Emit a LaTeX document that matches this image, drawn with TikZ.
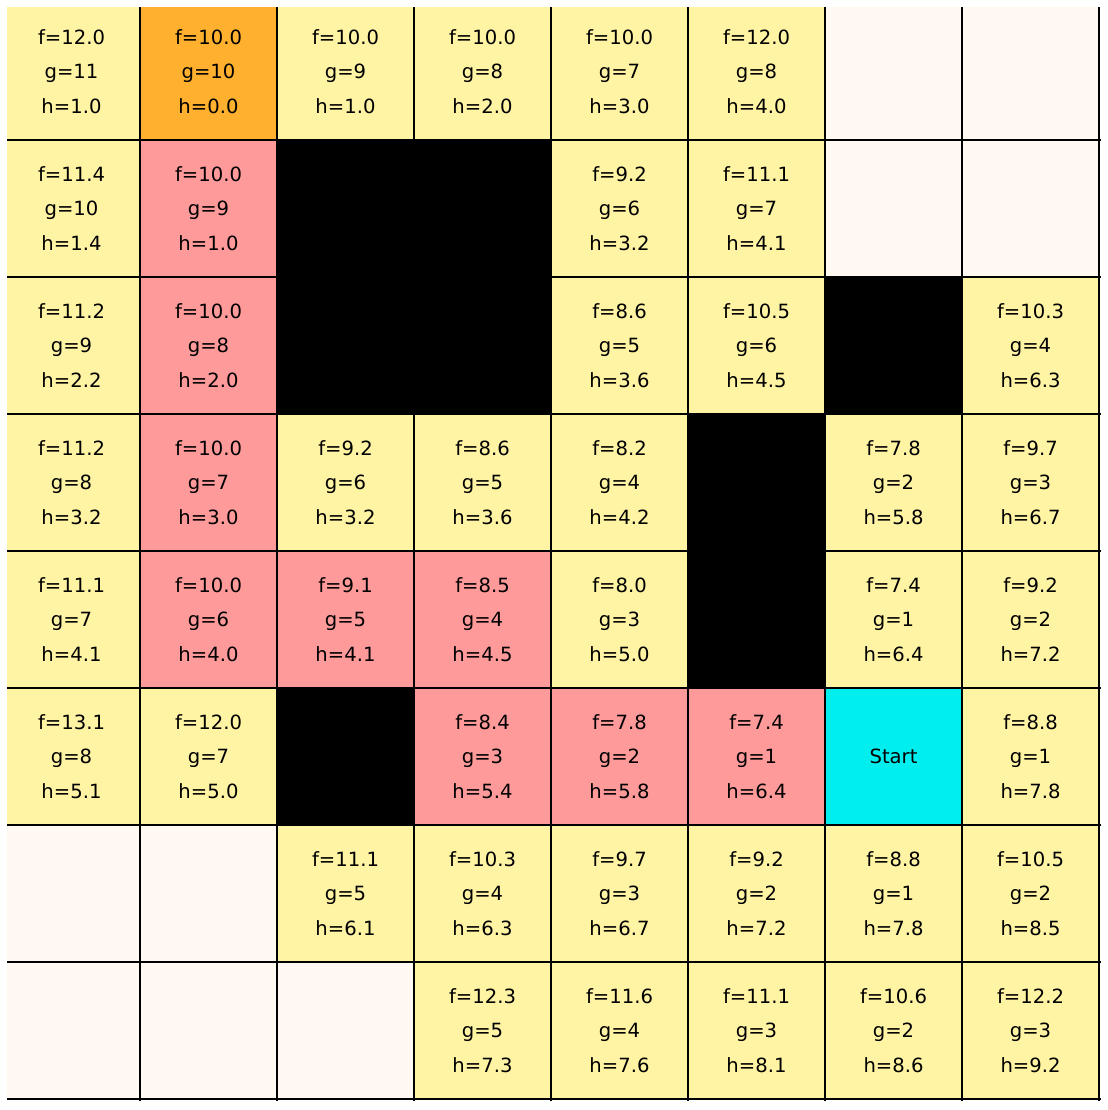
\documentclass[tikz,border=0pt]{standalone}
\usepackage{fontspec}
\setmainfont{DejaVu Sans}
\definecolor{cellyellow}{HTML}{FFF4A3}
\definecolor{cellorange}{HTML}{FFB02E}
\definecolor{cellpink}{HTML}{FF9A9A}
\definecolor{cellcyan}{HTML}{00EEEE}
\definecolor{cellwhite}{HTML}{FFF9F1}
\definecolor{gridline}{HTML}{000000}
\tikzset{
  cellbox/.style={minimum width=137bp, minimum height=137bp, inner sep=0pt, outer sep=0pt,
    align=center, font=\fontsize{19.6bp}{34.5bp}\selectfont, text=black},
  gridstroke/.style={draw=gridline, line width=1.4bp}
}
\newcommand{\fghtext}[3]{f=#1\\g=#2\\h=#3}
\begin{document}
\begin{tikzpicture}[x=1bp,y=-1bp]
\useasboundingbox (0,0) rectangle (1108,1110);
\begin{scope}
\clip (7,7) rectangle (1108,1110);
% yellow cells
\foreach \c/\r/\f/\g/\h in {
  0/0/12.0/11/1.0, 2/0/10.0/9/1.0, 3/0/10.0/8/2.0, 4/0/10.0/7/3.0, 5/0/12.0/8/4.0,
  0/1/11.4/10/1.4, 4/1/9.2/6/3.2, 5/1/11.1/7/4.1,
  0/2/11.2/9/2.2, 4/2/8.6/5/3.6, 5/2/10.5/6/4.5, 7/2/10.3/4/6.3,
  0/3/11.2/8/3.2, 2/3/9.2/6/3.2, 3/3/8.6/5/3.6, 4/3/8.2/4/4.2, 6/3/7.8/2/5.8, 7/3/9.7/3/6.7,
  0/4/11.1/7/4.1, 4/4/8.0/3/5.0, 6/4/7.4/1/6.4, 7/4/9.2/2/7.2,
  0/5/13.1/8/5.1, 1/5/12.0/7/5.0, 7/5/8.8/1/7.8,
  2/6/11.1/5/6.1, 3/6/10.3/4/6.3, 4/6/9.7/3/6.7, 5/6/9.2/2/7.2, 6/6/8.8/1/7.8, 7/6/10.5/2/8.5,
  3/7/12.3/5/7.3, 4/7/11.6/4/7.6, 5/7/11.1/3/8.1, 6/7/10.6/2/8.6, 7/7/12.2/3/9.2}
  {\node[cellbox, fill=cellyellow] (cell-\c-\r) at ({71.5+137*\c},{71.5+137*\r}) {\fghtext{\f}{\g}{\h}};}
% pink cells (path)
\foreach \c/\r/\f/\g/\h in {
  1/1/10.0/9/1.0, 1/2/10.0/8/2.0, 1/3/10.0/7/3.0, 1/4/10.0/6/4.0,
  2/4/9.1/5/4.1, 3/4/8.5/4/4.5, 3/5/8.4/3/5.4, 4/5/7.8/2/5.8, 5/5/7.4/1/6.4}
  {\node[cellbox, fill=cellpink] (cell-\c-\r) at ({71.5+137*\c},{71.5+137*\r}) {\fghtext{\f}{\g}{\h}};}
% goal
\node[cellbox, fill=cellorange] (cell-1-0) at ({71.5+137*1},{71.5+137*0}) {\fghtext{10.0}{10}{0.0}};
% start
\node[cellbox, fill=cellcyan] (cell-6-5) at ({71.5+137*6},{71.5+137*5}) {Start};
% walls
\foreach \c/\r in {2/1, 3/1, 2/2, 3/2, 6/2, 5/3, 5/4, 2/5}
  {\node[cellbox, fill=black] (cell-\c-\r) at ({71.5+137*\c},{71.5+137*\r}) {};}
% unvisited
\foreach \c/\r in {6/0, 7/0, 6/1, 7/1, 0/6, 1/6, 0/7, 1/7, 2/7}
  {\node[cellbox, fill=cellwhite] (cell-\c-\r) at ({71.5+137*\c},{71.5+137*\r}) {};}
% grid lines (right and bottom borders)
\foreach \k in {0,...,7} {
  \draw[gridstroke] ({140+137*\k},7) -- ({140+137*\k},1100.7);
  \draw[gridstroke] (7,{140+137*\k}) -- (1100.7,{140+137*\k});
}
\end{scope}
\end{tikzpicture}
\end{document}
